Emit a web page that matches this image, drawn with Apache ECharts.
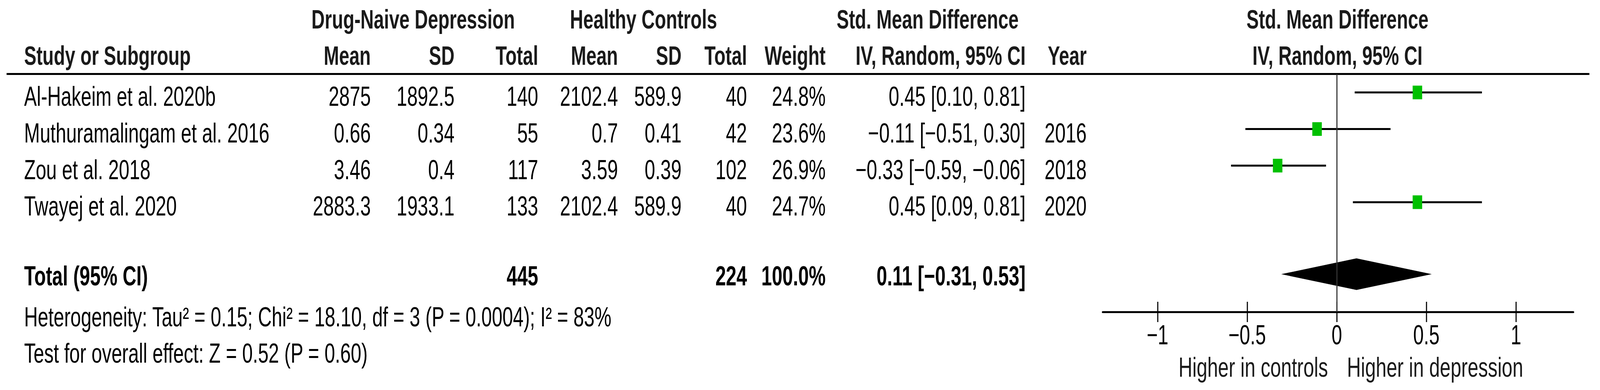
<!DOCTYPE html>
<html>
<head>
<meta charset="utf-8">
<title>Forest plot</title>
<script src="https://cdn.jsdelivr.net/npm/echarts@6.0.0/dist/echarts.min.js"></script>
<style>
html, body { margin: 0; padding: 0; overflow: hidden; background: #fff; }
#c { width: 4376px; height: 999px; transform-origin: 0 0; }
</style>
</head>
<body>
<div id="c"></div>
<script>
// ---------------- data ----------------
const studies = ['Al-Hakeim et al. 2020b', 'Muthuramalingam et al. 2016', 'Zou et al. 2018', 'Twayej et al. 2020'];
const dnMean = [2875, 0.66, 3.46, 2883.3];
const dnSD = [1892.5, 0.34, 0.4, 1933.1];
const dnTotal = [140, 55, 117, 133];
const hcMean = [2102.4, 0.7, 3.59, 2102.4];
const hcSD = [589.9, 0.41, 0.39, 589.9];
const hcTotal = [40, 42, 102, 40];
const weights = [24.8, 23.6, 26.9, 24.7];
const smd = [0.45, -0.11, -0.33, 0.45];
const ciLow = [0.10, -0.51, -0.59, 0.09];
const ciHigh = [0.81, 0.30, -0.06, 0.81];
const years = ['', '2016', '2018', '2020'];
const totalDN = 445;
const totalHC = 224;
const totalWeight = 100.0;
const pooled = 0.11;
const pooledLow = -0.31;
const pooledHigh = 0.53;
const tickValues = [-1, -0.5, 0, 0.5, 1];
const heterogeneityText = 'Heterogeneity: Tau\u00B2 = 0.15; Chi\u00B2 = 18.10, df = 3 (P = 0.0004); I\u00B2 = 83%';
const overallText = 'Test for overall effect: Z = 0.52 (P = 0.60)';
const leftLabel = 'Higher in controls';
const rightLabel = 'Higher in depression';

// ---------------- layout (px in a 4376 x 999 frame) ----------------
const FW = 4376, FH = 999;
const SX = 0.74; // horizontal text compression of the reference
const layout = {
  studyX: 66, dnMean: 1014, dnSD: 1243, dnTotal: 1472, hcMean: 1690, hcSD: 1864,
  hcTotal: 2043, weight: 2258, ci: 2805, year: 2972,
  dnCenter: 1130, hcCenter: 1760, smdCenter: 2537, plotCenter: 3658,
  plotLeft: 3016, plotWidth: 1287, top: 190, height: 609,
  ruleLeft: 18, ruleRight: 4347, yMin: -0.5, yMax: 6
};
const FONT = '"Liberation Sans", Arial, sans-serif';
const fBody = '70px ' + FONT;
const fBold = 'bold 70px ' + FONT;
const fHead = 'bold 68px ' + FONT;

// fit the 4376 x 999 frame into the actual viewport
const el = document.getElementById('c');
const iw = window.innerWidth || FW, ih = window.innerHeight || FH;
el.style.transform = 'scale(' + (iw / FW) + ',' + (ih / FH) + ')';

function fmt2(v) { return (v < 0 ? '\u2212' : '') + Math.abs(v).toFixed(2); }
function ciText(e, l, h) { return fmt2(e) + ' [' + fmt2(l) + ', ' + fmt2(h) + ']'; }
function tickText(v) { return (v < 0 ? '\u2212' : '') + Math.abs(v); }

// table cells
const cells = [];
studies.forEach((s, i) => {
  const dy = 10;
  cells.push({ x: layout.studyX, row: i, text: s, align: 'left', font: fBody, dy });
  cells.push({ x: layout.dnMean, row: i, text: String(dnMean[i]), align: 'right', font: fBody, dy });
  cells.push({ x: layout.dnSD, row: i, text: String(dnSD[i]), align: 'right', font: fBody, dy });
  cells.push({ x: layout.dnTotal, row: i, text: String(dnTotal[i]), align: 'right', font: fBody, dy });
  cells.push({ x: layout.hcMean, row: i, text: String(hcMean[i]), align: 'right', font: fBody, dy });
  cells.push({ x: layout.hcSD, row: i, text: String(hcSD[i]), align: 'right', font: fBody, dy });
  cells.push({ x: layout.hcTotal, row: i, text: String(hcTotal[i]), align: 'right', font: fBody, dy });
  cells.push({ x: layout.weight, row: i, text: weights[i].toFixed(1) + '%', align: 'right', font: fBody, dy });
  cells.push({ x: layout.ci, row: i, text: ciText(smd[i], ciLow[i], ciHigh[i]), align: 'right', font: fBody, dy });
  if (years[i]) cells.push({ x: layout.year, row: i, text: years[i], align: 'right', font: fBody, dy });
});
const totalRow = 5;
cells.push({ x: layout.studyX, row: totalRow, text: 'Total (95% CI)', align: 'left', font: fBold, dy: 1 });
cells.push({ x: layout.dnTotal, row: totalRow, text: String(totalDN), align: 'right', font: fBold, dy: 1 });
cells.push({ x: layout.hcTotal, row: totalRow, text: String(totalHC), align: 'right', font: fBold, dy: 1 });
cells.push({ x: layout.weight, row: totalRow, text: totalWeight.toFixed(1) + '%', align: 'right', font: fBold, dy: 1 });
cells.push({ x: layout.ci, row: totalRow, text: ciText(pooled, pooledLow, pooledHigh), align: 'right', font: fBold, dy: 1 });

function txt(text, x, y, align, font, fill) {
  return { type: 'text', x: x, y: y, scaleX: SX, silent: true,
    style: { text: text, font: font, fill: fill || '#000', textAlign: align, textVerticalAlign: 'middle' } };
}

const graphics = [
  txt('Drug-Naive Depression', layout.dnCenter, 49, 'center', fHead, '#1a1a1a'),
  txt('Healthy Controls', layout.hcCenter, 49, 'center', fHead, '#1a1a1a'),
  txt('Std. Mean Difference', layout.smdCenter, 49, 'center', fHead, '#1a1a1a'),
  txt('Std. Mean Difference', layout.plotCenter, 49, 'center', fHead, '#1a1a1a'),
  txt('Study or Subgroup', layout.studyX, 142, 'left', fHead, '#1a1a1a'),
  txt('Mean', layout.dnMean, 142, 'right', fHead, '#1a1a1a'),
  txt('SD', layout.dnSD, 142, 'right', fHead, '#1a1a1a'),
  txt('Total', layout.dnTotal, 142, 'right', fHead, '#1a1a1a'),
  txt('Mean', layout.hcMean, 142, 'right', fHead, '#1a1a1a'),
  txt('SD', layout.hcSD, 142, 'right', fHead, '#1a1a1a'),
  txt('Total', layout.hcTotal, 142, 'right', fHead, '#1a1a1a'),
  txt('Weight', layout.weight, 142, 'right', fHead, '#1a1a1a'),
  txt('IV, Random, 95% CI', layout.ci, 142, 'right', fHead, '#1a1a1a'),
  txt('Year', layout.year, 142, 'right', fHead, '#1a1a1a'),
  txt('IV, Random, 95% CI', layout.plotCenter, 142, 'center', fHead, '#1a1a1a'),
  { type: 'rect', silent: true, shape: { x: layout.ruleLeft, y: 187, width: layout.ruleRight - layout.ruleLeft, height: 5 },
    style: { fill: '#000' } },
  txt(heterogeneityText, layout.studyX, 812, 'left', fBody),
  txt(overallText, layout.studyX, 905, 'left', fBody),
  txt(leftLabel, 3632, 941, 'right', '71px ' + FONT, '#1a1a1a'),
  txt(rightLabel, 3684, 941, 'left', '71px ' + FONT, '#1a1a1a')
];

const studyData = studies.map((s, i) => [smd[i], ciLow[i], ciHigh[i], i]);
const pooledData = [[pooled, pooledLow, pooledHigh, totalRow]];

const option = {
  animation: false,
  backgroundColor: '#fff',
  grid: [
    { left: 0, top: layout.top, width: FW, height: layout.height, outerBoundsMode: 'none', containLabel: false },
    { left: layout.plotLeft, top: layout.top, width: layout.plotWidth, height: layout.height, outerBoundsMode: 'none', containLabel: false }
  ],
  xAxis: [
    { gridIndex: 0, type: 'value', min: 0, max: FW, show: false },
    { gridIndex: 1, type: 'value', min: -1.306, max: 1.32, position: 'bottom',
      axisLine: { show: true, onZero: false, lineStyle: { color: '#000', width: 5 } },
      axisTick: { show: true, inside: false, length: 26, lineStyle: { color: '#000', width: 3 }, customValues: tickValues },
      axisLabel: { show: false },
      splitLine: { show: false } },
    { gridIndex: 1, type: 'value', min: -1.306, max: 1.32, position: 'bottom',
      axisLine: { show: false, onZero: false },
      axisTick: { show: true, inside: true, length: 26, lineStyle: { color: '#000', width: 3 }, customValues: tickValues },
      axisLabel: { show: false },
      splitLine: { show: false } }
  ],
  yAxis: [
    { gridIndex: 0, type: 'value', min: layout.yMin, max: layout.yMax, inverse: true, show: false },
    { gridIndex: 1, type: 'value', min: layout.yMin, max: layout.yMax, inverse: true, show: false }
  ],
  graphic: graphics,
  series: [
    {
      type: 'custom', name: 'table', xAxisIndex: 0, yAxisIndex: 0, silent: true,
      data: cells.map(c => [c.x, c.row]),
      renderItem: function (params, api) {
        const c = cells[params.dataIndex];
        const p = api.coord([api.value(0), api.value(1)]);
        return { type: 'text', x: p[0], y: p[1] + c.dy, scaleX: SX,
          style: { text: c.text, font: c.font, fill: '#000', textAlign: c.align, textVerticalAlign: 'middle' } };
      }
    },
    {
      type: 'custom', name: 'tickLabels', xAxisIndex: 1, yAxisIndex: 1, silent: true,
      data: tickValues.map(v => [v, layout.yMax]),
      renderItem: function (params, api) {
        const p = api.coord([api.value(0), api.value(1)]);
        return { type: 'text', x: p[0], y: p[1] + 59, scaleX: SX,
          style: { text: tickText(api.value(0)), font: fBody, fill: '#000', textAlign: 'center', textVerticalAlign: 'middle' } };
      }
    },
    {
      type: 'custom', name: 'studies', xAxisIndex: 1, yAxisIndex: 1, silent: true,
      data: studyData,
      renderItem: function (params, api) {
        const est = api.coord([api.value(0), api.value(3)]);
        const lo = api.coord([api.value(1), api.value(3)]);
        const hi = api.coord([api.value(2), api.value(3)]);
        return { type: 'group', children: [
          { type: 'line', shape: { x1: lo[0], y1: lo[1], x2: hi[0], y2: hi[1] },
            style: { stroke: '#000', lineWidth: 5 } },
          { type: 'rect', shape: { x: est[0] - 13, y: est[1] - 17.5, width: 26, height: 35 },
            style: { fill: '#00C000' } }
        ] };
      },
      markLine: {
        silent: true, symbol: 'none', label: { show: false },
        lineStyle: { color: '#333', width: 3, type: 'solid' },
        data: [{ xAxis: 0 }]
      },
      z: 3
    },
    {
      type: 'custom', name: 'pooled', xAxisIndex: 1, yAxisIndex: 1, silent: true,
      data: pooledData,
      renderItem: function (params, api) {
        const est = api.coord([api.value(0), api.value(3)]);
        const lo = api.coord([api.value(1), api.value(3)]);
        const hi = api.coord([api.value(2), api.value(3)]);
        const h = 40.5, y = est[1] - 3;
        return { type: 'polygon', shape: { points: [[lo[0], y], [est[0], y - h], [hi[0], y], [est[0], y + h]] },
          style: { fill: '#000' } };
      },
      z: 4
    }
  ]
};

const chart = echarts.init(el, null, { renderer: 'svg', width: FW, height: FH });
chart.setOption(option);
</script>
</body>
</html>
